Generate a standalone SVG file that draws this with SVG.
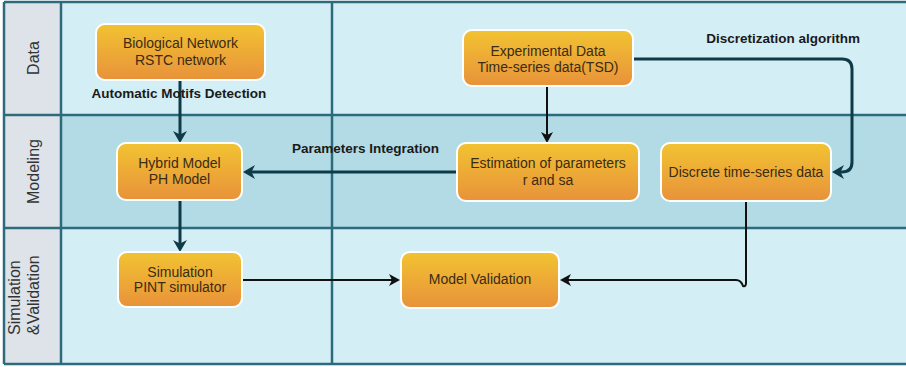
<svg xmlns="http://www.w3.org/2000/svg" width="906" height="367" viewBox="0 0 906 367">
  <defs>
    <linearGradient id="nodeGrad" x1="0" y1="0" x2="0" y2="1">
      <stop offset="0" stop-color="#f2c332"/>
      <stop offset="1" stop-color="#e8923a"/>
    </linearGradient>
    <marker id="arrowTeal" viewBox="0 0 12 14" refX="9" refY="7" markerWidth="12" markerHeight="14" markerUnits="userSpaceOnUse" orient="auto">
      <path d="M0,0 L12,7 L0,14 L3.5,7 z" fill="#0f3b48"/>
    </marker>
    <marker id="arrowBlack" viewBox="0 0 11 12" refX="8" refY="6" markerWidth="11" markerHeight="12" markerUnits="userSpaceOnUse" orient="auto">
      <path d="M0,0 L11,6 L0,12 L3,6 z" fill="#111111"/>
    </marker>
  </defs>
  <style>
    .lane-light { fill: #d4eef6; }
    .lane-dark { fill: #b2dbe6; }
    .header { fill: #dde3e9; }
    .grid { stroke: #2c6b7b; stroke-width: 2.5; fill: none; }
    .hdr-text { font-family: "Liberation Sans", Arial, sans-serif; font-size: 16px; fill: #333333; }
    .node rect { fill: url(#nodeGrad); stroke: #ffffff; stroke-width: 2; }
    .node text { font-family: "Liberation Sans", Arial, sans-serif; font-size: 14px; fill: #3a2c14; text-anchor: middle; }
    .label { font-family: "Liberation Sans", Arial, sans-serif; font-size: 13.5px; font-weight: bold; fill: #1a1a1a; }
    .conn-teal { stroke: #0f3b48; stroke-width: 3; fill: none; marker-end: url(#arrowTeal); }
    .conn-black { stroke: #111111; stroke-width: 2; fill: none; marker-end: url(#arrowBlack); }
  </style>

  <!-- swimlanes -->
  <g id="lanes">
    <rect class="lane-light" x="4" y="2" width="906" height="113"/>
    <rect class="lane-dark" x="4" y="115" width="906" height="113"/>
    <rect class="lane-light" x="4" y="228" width="906" height="136"/>
    <rect class="header" x="4" y="2" width="57" height="362"/>
    <path class="grid" d="M4,2 H910 M4,115 H910 M4,228 H910 M4,364 H910 M4,2 V364 M61,2 V364 M332,2 V364"/>
    <text class="hdr-text" transform="translate(33,58) rotate(-90)" text-anchor="middle" dy="0.36em">Data</text>
    <text class="hdr-text" transform="translate(33,171.5) rotate(-90)" text-anchor="middle" dy="0.36em">Modeling</text>
    <text class="hdr-text" transform="translate(14,335) rotate(-90)" text-anchor="start" dy="0.36em">Simulation</text>
    <text class="hdr-text" transform="translate(33.5,335) rotate(-90)" text-anchor="start" dy="0.36em">&amp;Validation</text>
  </g>

  <!-- connectors -->
  <g id="connectors">
    <path class="conn-teal" d="M180,81 V140"/>
    <path class="conn-black" d="M547,87 V140"/>
    <path class="conn-teal" d="M633,59 H842 Q852,59 852,69 V162 Q852,172 842,172 H835"/>
    <path class="conn-teal" d="M457,172 H246"/>
    <path class="conn-teal" d="M180,200 V249"/>
    <path class="conn-black" d="M242,280 H397"/>
    <path class="conn-black" d="M746,201 V283 Q746,287 743,286 Q741,280 736,280 H563"/>
    <text class="label" x="179" y="97.5" text-anchor="middle">Automatic Motifs Detection</text>
    <text class="label" x="292" y="153">Parameters Integration</text>
    <text class="label" x="860" y="43" text-anchor="end">Discretization algorithm</text>
  </g>

  <!-- nodes -->
  <g id="node-bio" class="node">
    <rect x="96" y="24" width="169" height="56" rx="9"/>
    <text x="180.5" y="48">Biological Network</text>
    <text x="180.5" y="65">RSTC network</text>
  </g>
  <g id="node-exp" class="node">
    <rect x="463" y="30" width="170" height="56" rx="9"/>
    <text x="548" y="55.5">Experimental Data</text>
    <text x="548" y="71.5">Time-series data(TSD)</text>
  </g>
  <g id="node-hybrid" class="node">
    <rect x="117" y="143" width="125" height="57" rx="9"/>
    <text x="179.5" y="168">Hybrid Model</text>
    <text x="179.5" y="184">PH Model</text>
  </g>
  <g id="node-est" class="node">
    <rect x="457" y="143" width="182" height="58" rx="9"/>
    <text x="548" y="168">Estimation of parameters</text>
    <text x="548" y="185">r and sa</text>
  </g>
  <g id="node-disc" class="node">
    <rect x="661" y="143" width="170" height="58" rx="9"/>
    <text x="746" y="176.5">Discrete time-series data</text>
  </g>
  <g id="node-sim" class="node">
    <rect x="118" y="252" width="124" height="55" rx="9"/>
    <text x="180" y="276.5">Simulation</text>
    <text x="180" y="291.5">PINT simulator</text>
  </g>
  <g id="node-val" class="node">
    <rect x="401" y="252" width="158" height="56" rx="9"/>
    <text x="480" y="284">Model Validation</text>
  </g>
</svg>
